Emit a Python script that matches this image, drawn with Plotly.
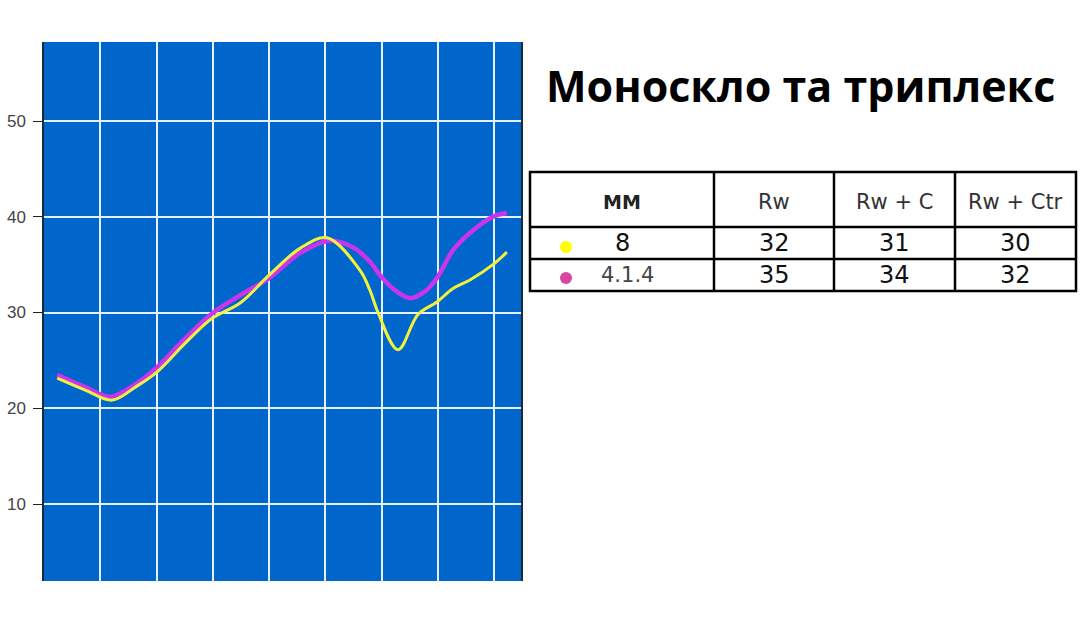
import plotly.graph_objects as go

# ---- data ----
x_yellow = [-0.764, -0.266, 0.213, 0.622, 1.012, 1.510, 1.989, 2.487, 3.002, 3.552, 4.032,
            4.618, 4.796, 4.938, 5.293, 5.648, 5.986, 6.270, 6.572, 6.980, 7.229]
y_yellow = [23.15, 21.9, 20.85, 22.2, 23.8, 26.8, 29.4, 31.0, 33.9, 36.7, 37.8,
            34.4, 32.3, 30.0, 26.1, 29.8, 31.1, 32.5, 33.4, 35.0, 36.3]

x_magenta = [-0.764, -0.266, 0.178, 0.622, 1.012, 1.510, 1.989, 2.487, 3.002, 3.552, 4.085,
             4.494, 4.796, 4.973, 5.204, 5.506, 5.773, 5.986, 6.270, 6.572, 6.980, 7.229]
y_magenta = [23.5, 22.2, 21.2, 22.5, 24.3, 27.3, 29.9, 31.8, 33.6, 36.2, 37.5,
             36.8, 35.3, 33.9, 32.5, 31.5, 32.2, 33.6, 36.5, 38.3, 40.0, 40.4]

y_ticks = [10, 20, 30, 40, 50]
x_grid = [0, 1, 2, 3, 4, 5, 6, 7]

title_text = "Моноскло та триплекс"
table_header = ["<b>ММ</b>", "Rw", "Rw + C", "Rw + Ctr"]
glass = ["8", "4.1.4"]
rw = ["32", "35"]
rw_c = ["31", "34"]
rw_ctr = ["30", "32"]
dot_colors = ["#FFFF00", "#D8479F"]

# ---- layout geometry (reference pixel positions) ----
W, H = 1080, 620
ML, MR, MT = 44, 0, 42
MB = H - 581
PW = W - ML - MR
PH = H - MT - MB

col_edges = [530, 714, 834, 955, 1076]
row_edges = [172, 227, 259, 291]
row_text_y = [202, 243, 275]


def px_x(p):
    return (p - ML) / PW


def px_y(p):
    return (H - MB - p) / PH


fig = go.Figure()

fig.add_trace(go.Scatter(
    x=x_magenta, y=y_magenta, mode="lines",
    line=dict(color="#CC33EE", width=4.5, shape="spline", smoothing=1.0),
    showlegend=False, hoverinfo="skip"))
fig.add_trace(go.Scatter(
    x=x_yellow, y=y_yellow, mode="lines",
    line=dict(color="#F2F23C", width=3, shape="spline", smoothing=1.0),
    showlegend=False, hoverinfo="skip"))

# ---- table ----
shapes = []
shapes.append(dict(type="rect", xref="paper", yref="paper",
                   x0=px_x(col_edges[0]), x1=px_x(col_edges[-1]),
                   y0=px_y(row_edges[-1]), y1=px_y(row_edges[0]),
                   line=dict(color="black", width=2.5), fillcolor="white", layer="below"))
for ce in col_edges[1:-1]:
    shapes.append(dict(type="line", xref="paper", yref="paper",
                       x0=px_x(ce), x1=px_x(ce), y0=px_y(row_edges[-1]), y1=px_y(row_edges[0]),
                       line=dict(color="black", width=2.5)))
for re_ in row_edges[1:-1]:
    shapes.append(dict(type="line", xref="paper", yref="paper",
                       x0=px_x(col_edges[0]), x1=px_x(col_edges[-1]), y0=px_y(re_), y1=px_y(re_),
                       line=dict(color="black", width=2.5)))

# legend dots in the first column
dot_r = 6
for i, c in enumerate(dot_colors):
    cy = [247, 278][i]
    shapes.append(dict(type="circle", xref="paper", yref="paper",
                       x0=px_x(566 - dot_r), x1=px_x(566 + dot_r),
                       y0=px_y(cy + dot_r), y1=px_y(cy - dot_r),
                       fillcolor=c, line=dict(width=0)))

fig.update_layout(shapes=shapes)

col_centers = [(a + b) / 2 for a, b in zip(col_edges[:-1], col_edges[1:])]

for j, h in enumerate(table_header):
    fig.add_annotation(
        x=px_x(col_centers[j]), y=px_y(row_text_y[0]), xref="paper", yref="paper",
        text=h, showarrow=False, xanchor="center", yanchor="middle",
        font=dict(family="DejaVu Sans", size=19 if j == 0 else 21,
                  color="#222222" if j == 0 else "#333333"))

columns = [glass, rw, rw_c, rw_ctr]
for j, col in enumerate(columns):
    for i, v in enumerate(col):
        xs = 0
        if j == 0 and i == 1:
            fsize, fcol, xs = 21, "#444444", 5
        else:
            fsize, fcol = 24, "#111111"
        fig.add_annotation(
            x=px_x(col_centers[j]), y=px_y(row_text_y[i + 1]), xref="paper", yref="paper",
            text=v, showarrow=False, xanchor="center", yanchor="middle", xshift=xs,
            font=dict(family="DejaVu Sans", size=fsize, color=fcol))

# ---- title ----
fig.add_annotation(
    x=px_x(800), y=px_y(86), xref="paper", yref="paper",
    text=f"<b>{title_text}</b>", showarrow=False,
    font=dict(family="Open Sans", size=43, color="#000000"),
    xanchor="center", yanchor="middle")

fig.update_layout(
    width=W, height=H,
    margin=dict(l=ML, r=MR, t=MT, b=MB, pad=0),
    paper_bgcolor="white",
    plot_bgcolor="#0066CC",
    xaxis=dict(
        domain=[0, px_x(521)],
        range=[-1.0, 7.48],
        tickvals=x_grid,
        showticklabels=False,
        ticks="",
        showgrid=True, gridcolor="#E4F1FF", gridwidth=1.5,
        zeroline=False, showline=False,
    ),
    yaxis=dict(
        range=[1.96, 58.25],
        tickvals=y_ticks,
        ticks="outside", ticklen=9, tickcolor="#222222", tickwidth=1.2,
        tickfont=dict(family="Liberation Sans", size=17, color="#444444"),
        ticklabelstandoff=4,
        showgrid=True, gridcolor="#E4F1FF", gridwidth=1.5,
        zeroline=False,
        showline=True, linecolor="#1B2B3B", linewidth=1.5, mirror=True,
    ),
)

fig.write_html("out.html",
               config={"displayModeBar": False},
               post_script="document.body.style.margin='0';document.body.style.overflow='hidden';")
